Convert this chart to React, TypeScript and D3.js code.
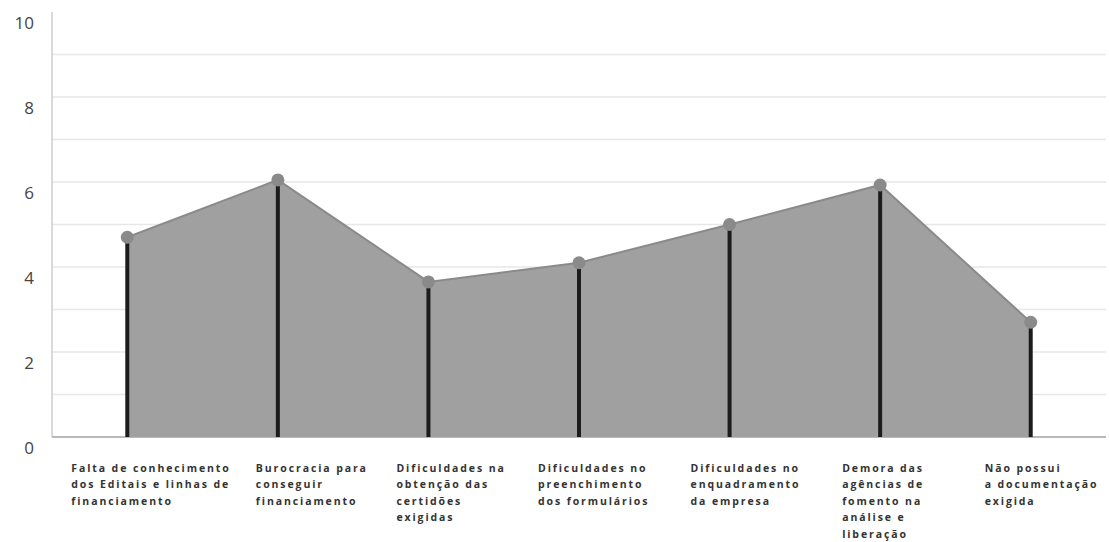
import React from "react";
import * as d3 from "d3";

// Survey categories (each entry is a list of label lines) and their scores
const categories: string[][] = [
  ["Falta de conhecimento", "dos Editais e linhas de", "financiamento"],
  ["Burocracia para", "conseguir", "financiamento"],
  ["Dificuldades na", "obtenção das", "certidões", "exigidas"],
  ["Dificuldades no", "preenchimento", "dos formulários"],
  ["Dificuldades no", "enquadramento", "da empresa"],
  ["Demora das", "agências de", "fomento na", "análise e", "liberação"],
  ["Não possui", "a documentação", "exigida"],
];
const scores: number[] = [4.7, 6.05, 3.65, 4.1, 5.0, 5.93, 2.7];
const yTickLabels: number[] = [0, 2, 4, 6, 8, 10];
const gridValues: number[] = [1, 2, 3, 4, 5, 6, 7, 8, 9];

// Small horizontal nudges for the category captions, relative to each stem
const labelDx = [-56, -22, -32, -41, -39, -38, -46];

const W = 1109;
const H = 542;
const left = 52;
const right = 1106;
const top = 12;
const bottom = 437;

export default function App() {
  const x = d3
    .scaleBand<number>()
    .domain(d3.range(categories.length))
    .range([left, right])
    .padding(0);
  const cx = (i: number) => (x(i) as number) + x.bandwidth() / 2;
  const y = d3.scaleLinear().domain([0, 10]).range([bottom, top]);

  const area = d3
    .area<number>()
    .x((_, i) => cx(i))
    .y0(y(0))
    .y1((d) => y(d));
  const line = d3
    .line<number>()
    .x((_, i) => cx(i))
    .y((d) => y(d));

  return (
    <svg
      width={W}
      height={H}
      style={{ position: "absolute", left: 0, top: 0, display: "block", background: "#fff" }}
    >
      {/* horizontal gridlines */}
      {gridValues.map((v) => (
        <line
          key={v}
          x1={left}
          x2={right}
          y1={y(v)}
          y2={y(v)}
          stroke="#e7e7e7"
          strokeWidth={1.5}
        />
      ))}
      {/* axes */}
      <line x1={left} x2={left} y1={top} y2={bottom} stroke="#cdcdcd" strokeWidth={1.5} />
      <line x1={left} x2={right} y1={bottom} y2={bottom} stroke="#b9b9b9" strokeWidth={2} />
      {yTickLabels.map((v) => (
        <text
          key={v}
          x={34}
          y={y(v) + 17}
          textAnchor="end"
          fontFamily="'Open Sans', sans-serif"
          fontSize={17}
          fill="#444"
        >
          {v}
        </text>
      ))}

      {/* filled area under the profile */}
      <path d={area(scores) ?? ""} fill="#a0a0a0" />
      <path d={line(scores) ?? ""} fill="none" stroke="#8a8a8a" strokeWidth={2} />

      {/* stems */}
      {scores.map((v, i) => (
        <line
          key={i}
          x1={cx(i)}
          x2={cx(i)}
          y1={y(v)}
          y2={bottom}
          stroke="#1c1c1c"
          strokeWidth={4}
        />
      ))}
      {/* markers */}
      {scores.map((v, i) => (
        <circle key={i} cx={cx(i)} cy={y(v)} r={6.5} fill="#8a8a8a" />
      ))}

      {/* category captions */}
      {categories.map((lines, i) => (
        <text
          key={i}
          x={cx(i) + labelDx[i]}
          y={472}
          fontFamily="'Open Sans', sans-serif"
          fontSize={10.5}
          fontWeight={700}
          letterSpacing={1.9}
          fill="#333"
        >
          {lines.map((t, j) => (
            <tspan key={j} x={cx(i) + labelDx[i]} dy={j === 0 ? 0 : 16.4}>
              {t}
            </tspan>
          ))}
        </text>
      ))}
    </svg>
  );
}
